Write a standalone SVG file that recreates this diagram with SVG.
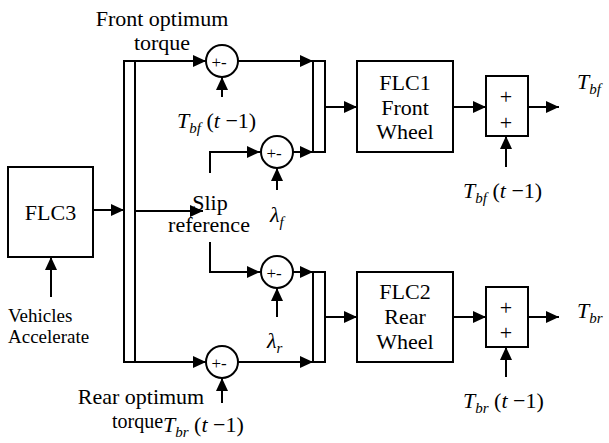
<svg xmlns="http://www.w3.org/2000/svg" width="609" height="443" viewBox="0 0 609 443">
<defs>
<marker id="ah" markerWidth="13" markerHeight="12" refX="13" refY="6" orient="auto" markerUnits="userSpaceOnUse">
<path d="M0,0 L13,6 L0,12 Z" fill="#000"/>
</marker>
<style>
.ln{fill:none;stroke:#000;stroke-width:2}
.bx{fill:#fff;stroke:#000;stroke-width:2}
text{font-family:'Liberation Serif',Tinos,'Times New Roman','DejaVu Serif',serif;fill:#000}
.t{font-size:22px}
.s{font-size:19px}
.i{font-style:italic}
.sub{font-style:italic;font-size:15px}
.pm{font-size:17px}
</style>
</defs>
<rect width="609" height="443" fill="#fff"/>

<g id="connectors">
<line class="ln" x1="93" y1="210" x2="124" y2="210" marker-end="url(#ah)"/>
<line class="ln" x1="51" y1="297" x2="51" y2="257" marker-end="url(#ah)"/>
<line class="ln" x1="124" y1="61" x2="206" y2="61" marker-end="url(#ah)"/>
<line class="ln" x1="222" y1="97" x2="222" y2="77" marker-end="url(#ah)"/>
<line class="ln" x1="238" y1="61" x2="313" y2="61" marker-end="url(#ah)"/>
<line class="ln" x1="135" y1="211" x2="203" y2="211" marker-end="url(#ah)"/>
<polyline class="ln" points="210,173 210,152 260,152" marker-end="url(#ah)"/>
<line class="ln" x1="277" y1="190" x2="277" y2="168" marker-end="url(#ah)"/>
<line class="ln" x1="293" y1="152" x2="313" y2="152" marker-end="url(#ah)"/>
<polyline class="ln" points="210,242 210,272 260,272" marker-end="url(#ah)"/>
<line class="ln" x1="277" y1="317" x2="277" y2="288" marker-end="url(#ah)"/>
<line class="ln" x1="293" y1="272" x2="313" y2="272" marker-end="url(#ah)"/>
<line class="ln" x1="124" y1="362" x2="206" y2="362" marker-end="url(#ah)"/>
<line class="ln" x1="222" y1="403" x2="222" y2="378" marker-end="url(#ah)"/>
<line class="ln" x1="238" y1="362" x2="313" y2="362" marker-end="url(#ah)"/>
<line class="ln" x1="325" y1="107" x2="357" y2="107" marker-end="url(#ah)"/>
<line class="ln" x1="453" y1="107" x2="486" y2="107" marker-end="url(#ah)"/>
<line class="ln" x1="506" y1="167" x2="506" y2="136" marker-end="url(#ah)"/>
<line class="ln" x1="528" y1="107" x2="559" y2="107" marker-end="url(#ah)"/>
<line class="ln" x1="325" y1="317" x2="357" y2="317" marker-end="url(#ah)"/>
<line class="ln" x1="453" y1="317" x2="486" y2="317" marker-end="url(#ah)"/>
<line class="ln" x1="506" y1="377" x2="506" y2="347" marker-end="url(#ah)"/>
<line class="ln" x1="528" y1="317" x2="559" y2="317" marker-end="url(#ah)"/>
</g>

<g id="flc3">
<rect class="bx" x="8" y="167" width="85" height="90"/>
<text class="t" x="50.5" y="220" text-anchor="middle">FLC3</text>
</g>
<g id="vehicles-accelerate">
<text class="s" x="8" y="322">Vehicles</text>
<text class="s" x="8" y="343">Accelerate</text>
</g>
<g id="bus">
<rect class="ln" x="124" y="61" width="11" height="301"/>
</g>
<g id="front-optimum-label">
<text class="t" x="162" y="26" text-anchor="middle">Front optimum</text>
<text class="t" x="162" y="50" text-anchor="middle">torque</text>
</g>
<g id="sum-front-torque">
<circle class="bx" cx="222" cy="61" r="16"/>
<text class="pm" x="219" y="68" text-anchor="middle">+-</text>
</g>
<g id="tbf-prev-1">
<text class="t" x="177" y="128"><tspan class="i">T</tspan><tspan class="sub" dy="5">bf</tspan><tspan dy="-5"> (</tspan><tspan class="i">t</tspan><tspan> −1)</tspan></text>
</g>
<g id="slip-reference">
<text class="t" x="210" y="210" text-anchor="middle">Slip</text>
<text class="t" x="209" y="232" text-anchor="middle">reference</text>
</g>
<g id="sum-front-slip">
<circle class="bx" cx="277" cy="152" r="16"/>
<text class="pm" x="274" y="159" text-anchor="middle">+-</text>
</g>
<g id="lambda-f">
<text class="t" x="270" y="222"><tspan class="i">λ</tspan><tspan class="sub" dy="5">f</tspan></text>
</g>
<g id="sum-rear-slip">
<circle class="bx" cx="277" cy="272" r="16"/>
<text class="pm" x="274" y="279" text-anchor="middle">+-</text>
</g>
<g id="lambda-r">
<text class="t" x="267" y="348"><tspan class="i">λ</tspan><tspan class="sub" dy="5">r</tspan></text>
</g>
<g id="sum-rear-torque">
<circle class="bx" cx="222" cy="362" r="16"/>
<text class="pm" x="219" y="369" text-anchor="middle">+-</text>
</g>
<g id="rear-optimum-label">
<text class="t" x="141" y="404" text-anchor="middle">Rear optimum</text>
<text class="s" x="112" y="428" style="font-size:20px">torque</text>
<text class="t" x="163" y="432"><tspan class="i">T</tspan><tspan class="sub" dy="5">br</tspan><tspan dy="-5"> (</tspan><tspan class="i">t</tspan><tspan> −1)</tspan></text>
</g>
<g id="bus-front">
<rect class="ln" x="313" y="61" width="12" height="91"/>
</g>
<g id="bus-rear">
<rect class="ln" x="313" y="272" width="12" height="90"/>
</g>
<g id="flc1">
<rect class="bx" x="357" y="61" width="96" height="91"/>
<text class="t" x="405" y="90" text-anchor="middle">FLC1</text>
<text class="t" x="405" y="115" text-anchor="middle">Front</text>
<text class="t" x="405" y="139" text-anchor="middle">Wheel</text>
</g>
<g id="flc2">
<rect class="bx" x="357" y="272" width="96" height="90"/>
<text class="t" x="405" y="299" text-anchor="middle">FLC2</text>
<text class="t" x="405" y="324" text-anchor="middle">Rear</text>
<text class="t" x="405" y="349" text-anchor="middle">Wheel</text>
</g>
<g id="sum-front-out">
<rect class="bx" x="486" y="76" width="42" height="60"/>
<text class="t" x="506" y="104" text-anchor="middle">+</text>
<text class="t" x="506" y="130" text-anchor="middle">+</text>
</g>
<g id="sum-rear-out">
<rect class="bx" x="486" y="287" width="42" height="60"/>
<text class="t" x="506" y="315" text-anchor="middle">+</text>
<text class="t" x="506" y="340" text-anchor="middle">+</text>
</g>
<g id="tbf-prev-2">
<text class="t" x="463" y="198"><tspan class="i">T</tspan><tspan class="sub" dy="5">bf</tspan><tspan dy="-5"> (</tspan><tspan class="i">t</tspan><tspan> −1)</tspan></text>
</g>
<g id="tbr-prev">
<text class="t" x="463" y="408"><tspan class="i">T</tspan><tspan class="sub" dy="5">br</tspan><tspan dy="-5"> (</tspan><tspan class="i">t</tspan><tspan> −1)</tspan></text>
</g>
<g id="tbf-out">
<text class="t" x="577" y="89"><tspan class="i">T</tspan><tspan class="sub" dy="5">bf</tspan></text>
</g>
<g id="tbr-out">
<text class="t" x="577" y="318"><tspan class="i">T</tspan><tspan class="sub" dy="5">br</tspan></text>
</g>
</svg>
